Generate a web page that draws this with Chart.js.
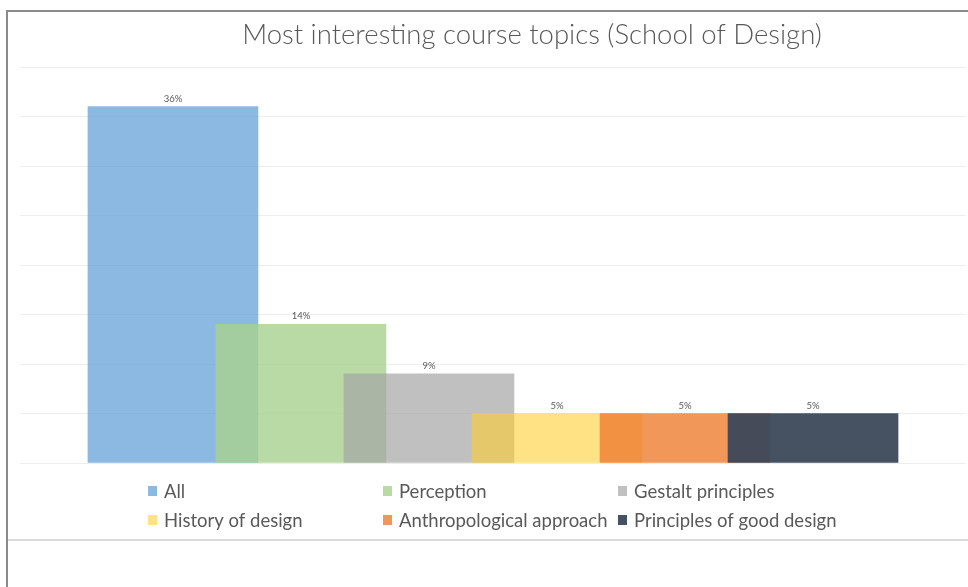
<!DOCTYPE html>
<html>
<head>
<meta charset="utf-8">
<script src="https://cdn.jsdelivr.net/npm/chart.js@4"></script>
<style>
  body { margin: 0; background: #fff; }
  #wrap { position: relative; width: 968px; height: 587px; overflow: hidden; }
  #frame { position: absolute; left: 6px; top: 10px; width: 980px; height: 600px;
           border-left: 2px solid #8a8a8a; border-top: 2px solid #8a8a8a; }
  #rule { position: absolute; left: 8px; top: 539px; width: 970px; height: 0;
          border-top: 2px solid #dadada; }
  canvas { position: absolute; left: 0; top: 0; }
</style>
</head>
<body>
<div id="wrap">
  <div id="frame"></div>
  <div id="rule"></div>
  <canvas id="c" width="968" height="587"></canvas>
</div>
<script>
const title = "Most interesting course topics (School of Design)";
const topics = ["All", "Perception", "Gestalt principles", "History of design", "Anthropological approach", "Principles of good design"];
const shares = [36, 14, 9, 5, 5, 5];
const colors = [
  "rgba(91,155,213,0.7)",
  "rgba(169,209,142,0.8)",
  "rgba(165,165,165,0.7)",
  "rgba(255,206,50,0.6)",
  "rgba(237,125,49,0.8)",
  "rgba(60,72,88,0.95)"
];

const textColor = "#595959";
const font = "Lato, 'Open Sans', sans-serif";

// labels over the bars, title and a 3-column legend
const extras = {
  id: "extras",
  afterDatasetsDraw(chart) {
    const ctx = chart.ctx;
    const meta = chart.getDatasetMeta(0);
    ctx.save();
    ctx.fillStyle = textColor;
    ctx.font = "9.5px " + font;
    ctx.textAlign = "center";
    ctx.textBaseline = "alphabetic";
    meta.data.forEach((bar, i) => {
      ctx.fillText(shares[i] + "%", bar.x, bar.y - 5);
    });
    ctx.restore();
  },
  afterDraw(chart) {
    const ctx = chart.ctx;
    ctx.save();
    ctx.fillStyle = textColor;
    ctx.font = "300 27.5px " + font;
    ctx.textAlign = "center";
    ctx.textBaseline = "alphabetic";
    ctx.fillText(title, 532, 44);

    const colX = [148, 383, 618];
    const rowY = [491, 520];
    ctx.font = "18.5px " + font;
    ctx.textAlign = "left";
    ctx.textBaseline = "middle";
    topics.forEach((t, i) => {
      const x = colX[i % 3];
      const y = rowY[Math.floor(i / 3)];
      ctx.fillStyle = colors[i];
      ctx.fillRect(x, y - 5, 9, 10);
      ctx.fillStyle = textColor;
      ctx.fillText(t, x + 16, y + 1);
    });
    ctx.restore();
  }
};

const points = shares.map((v, i) => ({ x: i, y: v }));

new Chart(document.getElementById("c"), {
  type: "bar",
  data: {
    datasets: [{
      label: title,
      data: points,
      backgroundColor: colors,
      borderWidth: 0,
      barThickness: 170
    }]
  },
  options: {
    responsive: false,
    animation: false,
    events: [],
    layout: { padding: { left: 20, right: 2, top: 67, bottom: 124 } },
    plugins: {
      legend: { display: false },
      title: { display: false },
      tooltip: { enabled: false }
    },
    scales: {
      x: {
        type: "linear",
        min: -1.195,
        max: 6.195,
        offset: false,
        display: false
      },
      y: {
        min: 0,
        max: 40,
        ticks: { display: false, stepSize: 5 },
        border: { display: false },
        grid: { color: "#ededed", drawTicks: false }
      }
    }
  },
  plugins: [extras]
});
</script>
</body>
</html>
